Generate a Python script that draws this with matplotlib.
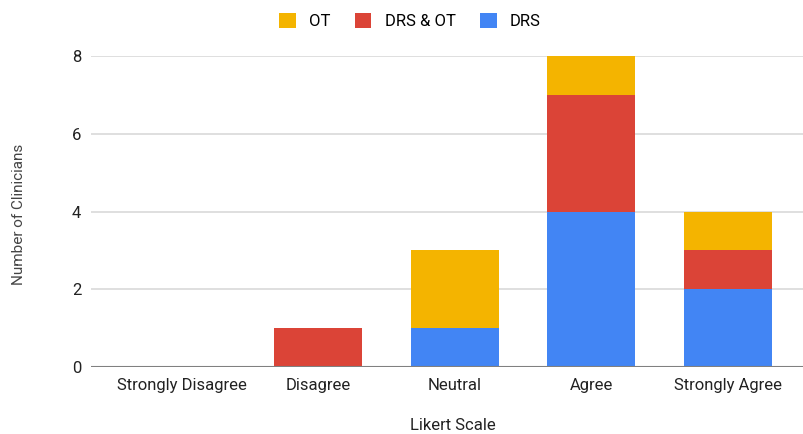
import matplotlib
matplotlib.use('Agg')
import matplotlib.pyplot as plt
import numpy as np

# Data
categories = ['Strongly Disagree', 'Disagree', 'Neutral', 'Agree', 'Strongly Agree']
drs = [0, 0, 1, 4, 2]
drs_ot = [0, 1, 0, 3, 1]
ot = [0, 0, 2, 1, 1]

plt.rcParams['font.family'] = ['Roboto', 'DejaVu Sans']

fig = plt.figure(figsize=(8.04, 4.34), dpi=100)
ax = fig.add_axes([91/804, 67/434, 713/804, 311/434])

x = np.arange(len(categories))
w = 0.645
b1 = ax.bar(x, drs, w, color='#4285F4', label='DRS', zorder=3)
b2 = ax.bar(x, drs_ot, w, bottom=drs, color='#DB4437', label='DRS & OT', zorder=3)
bottom2 = np.array(drs) + np.array(drs_ot)
b3 = ax.bar(x, ot, w, bottom=bottom2, color='#F4B400', label='OT', zorder=3)

ax.set_xlim(-0.663, 4.56)
ax.set_ylim(0, 8)
ax.set_yticks([0, 2, 4, 6, 8])
ax.set_xticks(x)
ax.set_xticklabels(categories)
ax.grid(axis='y', color='#d9d9d9', linewidth=1.2, zorder=0)
ax.axhline(0, color='#808080', linewidth=1.5, zorder=4)
for s in ax.spines.values():
    s.set_visible(False)
ax.tick_params(length=0, labelsize=12, colors='#222222')
ax.tick_params(axis='x', pad=8)
ax.tick_params(axis='y', pad=7)

ax.set_xlabel('Likert Scale', fontsize=12, color='#222222')
ax.xaxis.set_label_coords(0.507, -0.165)
ax.set_ylabel('Number of Clinicians', fontsize=11, color='#444444')
ax.yaxis.set_label_coords(-0.091, 0.49)

fig.legend(handles=[b3, b2, b1], labels=['OT', 'DRS & OT', 'DRS'], loc='center',
           bbox_to_anchor=(410/804, 1 - 21/434), ncol=3, frameon=False,
           fontsize=12, handlelength=1.0, handleheight=1.0, columnspacing=1.45,
           handletextpad=0.8)

fig.savefig('out.png', dpi=100)
